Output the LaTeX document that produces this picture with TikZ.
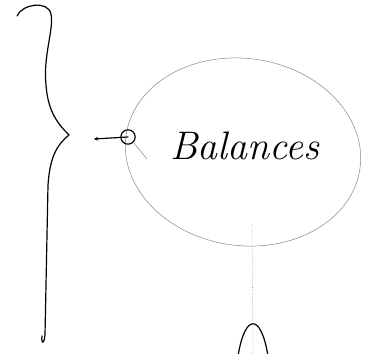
\documentclass[tikz,border=0pt]{standalone}
\usepackage{tikz}
\usetikzlibrary{arrows.meta, positioning, shapes.geometric}
\definecolor{pencil}{RGB}{140,140,140}
\tikzset{
  ink/.style={black, line width=0.9pt, line cap=round, line join=round},
  faint/.style={pencil, line width=0.4pt},
}

\begin{document}
\begin{tikzpicture}[x=0.02646cm, y=-0.02646cm, >=Stealth]
  \useasboundingbox (0,0) rectangle (367,354);

  % Brace
  \draw[ink] (17,16) .. controls (22,4) and (48,0) .. (51,14)
    .. controls (54,30) and (43,55) .. (46,85)
    .. controls (48,112) and (58,124) .. (69,135) coordinate (tip)
    .. controls (58,144) and (50,155) .. (48,185)
    -- (45,335) .. controls (44,345) and (41,344) .. (42,336);

  % Balances cloud
  \node[ellipse, draw, faint, rotate=-8,
    minimum width=6.25cm, minimum height=4.95cm] (balances) at (243,152) {};
  \node[font=\itshape\fontsize{30}{30}\selectfont] (label) at (245,146) {Balances};

  % Port with stub
  \node[circle, draw, ink, inner sep=0pt, minimum size=0.38cm] (port) at (128,137) {};
  \coordinate (stub) at (94,139);
  \coordinate (mark) at (147,159);
  \draw[ink, -{Stealth[length=3pt, width=3pt]}] (port.center) -- (stub);
  \draw[faint] (port.south east) -- (mark);

  % Stem and arch
  \coordinate (stemtop) at (252,224);
  \coordinate (stembot) at (253,354);
  \draw[faint, densely dotted] (stemtop) -- (stembot);
  \coordinate (peak) at (253,323);
  \draw[ink] (238,356) .. controls (245,313) and (261,313) .. (268,356);
\end{tikzpicture}
\end{document}
